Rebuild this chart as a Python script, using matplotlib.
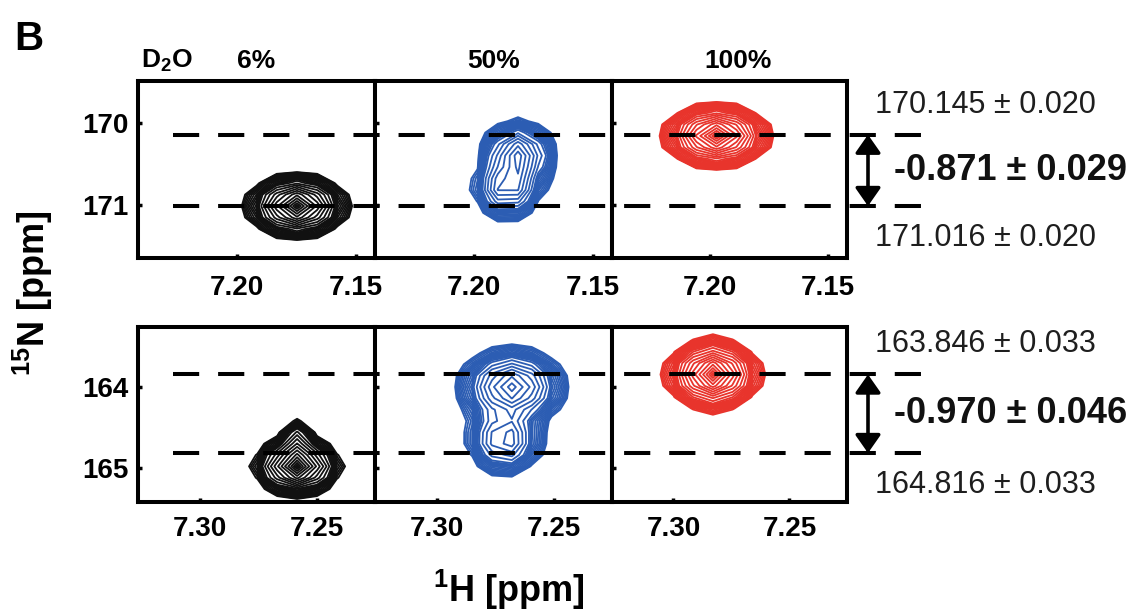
import numpy as np
import matplotlib
matplotlib.use("Agg")
import matplotlib.pyplot as plt
from matplotlib.lines import Line2D
from matplotlib.patches import FancyArrowPatch
from matplotlib.transforms import blended_transform_factory

plt.rcParams['font.family'] = ['Liberation Sans', 'DejaVu Sans']
plt.rcParams['mathtext.fontset'] = 'custom'
plt.rcParams['mathtext.rm'] = 'Liberation Sans'
plt.rcParams['mathtext.bf'] = 'Liberation Sans:bold'
plt.rcParams['mathtext.it'] = 'Liberation Sans:italic'

# ---- data ---------------------------------------------------------------
d2o_fractions = ["6%", "50%", "100%"]
panel_colors = ["#111111", "#2c5db3", "#e8342c"]

# upper residue
upper_h_lim = (7.2416, 7.1420)
upper_n_lim = (171.65, 169.49)
upper_h_ticks = [7.20, 7.15]
upper_n_ticks = [170, 171]
upper_shift = [170.145, 171.016]
upper_shift_err = [0.020, 0.020]
upper_delta_err = 0.029
# peak components per panel: (1H, 15N, height, width 1H, width 15N)
upper_peaks = [
    [(7.1748, 171.016, 1.00, 0.0083, 0.160)],
    [(7.1815, 170.400, 0.65, 0.0065, 0.190),
     (7.1860, 170.800, 0.65, 0.0058, 0.170)],
    [(7.1973, 170.160, 1.00, 0.0089, 0.160)],
]

# lower residue
lower_h_lim = (7.3265, 7.2252)
lower_n_lim = (165.42, 163.26)
lower_h_ticks = [7.30, 7.25]
lower_n_ticks = [164, 165]
lower_shift = [163.846, 164.816]
lower_shift_err = [0.033, 0.033]
lower_delta_err = 0.046
lower_peaks = [
    [(7.2585, 164.980, 1.00, 0.0073, 0.150),
     (7.2585, 164.650, 0.30, 0.0030, 0.120)],
    [(7.2680, 164.000, 0.75, 0.0095, 0.210),
     (7.2710, 164.650, 0.55, 0.0068, 0.200)],
    [(7.2830, 163.846, 1.00, 0.0080, 0.185)],
]

# contour radii (in peak widths): evenly spread inside, packed at the rim
contour_radii = np.concatenate([np.linspace(0.12, 1.85, 13), np.linspace(1.92, 2.54, 13)])
contour_levels = np.sort(np.exp(-0.5 * contour_radii ** 2))

# ---- figure -------------------------------------------------------------
W, H = 1139, 613
fig = plt.figure(figsize=(W / 100, H / 100), dpi=100)

panel_x = [138, 375, 612]
panel_w = [237, 237, 235]
rows = [
    dict(top=81, bottom=258, hlim=upper_h_lim, nlim=upper_n_lim,
         hticks=upper_h_ticks, nticks=upper_n_ticks, peaks=upper_peaks,
         shift=upper_shift, err=upper_shift_err, derr=upper_delta_err,
         step=(0.0085, 0.14)),
    dict(top=327, bottom=502, hlim=lower_h_lim, nlim=lower_n_lim,
         hticks=lower_h_ticks, nticks=lower_n_ticks, peaks=lower_peaks,
         shift=lower_shift, err=lower_shift_err, derr=lower_delta_err,
         step=(0.0085, 0.14)),
]


def fx(px):
    return px / W


def fy(py):
    return 1 - py / H


def draw_peaks(ax, comps, step, color):
    h0, n0 = comps[0][0], comps[0][1]
    sh, sn = step
    xl, yl = sorted(ax.get_xlim()), sorted(ax.get_ylim())
    hs = h0 + sh * np.arange(np.floor((xl[0] - h0) / sh), np.ceil((xl[1] - h0) / sh) + 1)
    ns = n0 + sn * np.arange(np.floor((yl[0] - n0) / sn), np.ceil((yl[1] - n0) / sn) + 1)
    HH, NN = np.meshgrid(hs, ns)
    Z = np.zeros_like(HH)
    for h, n, a, wh, wn in comps:
        Z += a * np.exp(-0.5 * (((HH - h) / wh) ** 2 + ((NN - n) / wn) ** 2))
    ax.contour(HH, NN, Z, levels=contour_levels, colors=color, linewidths=1.3)


for r, row in enumerate(rows):
    axes = []
    for p in range(3):
        ax = fig.add_axes([fx(panel_x[p]), fy(row['bottom']),
                           fx(panel_w[p]), (row['bottom'] - row['top']) / H])
        ax.set_xlim(*row['hlim'])
        ax.set_ylim(*row['nlim'])
        ax.set_xticks(row['hticks'])
        ax.set_xticklabels([f"{t:.2f}" for t in row['hticks']])
        ax.set_yticks(row['nticks'])
        if p == 0:
            ax.set_yticklabels([f"{t:d}" for t in row['nticks']])
        else:
            ax.set_yticklabels([])
        ax.tick_params(direction='in', length=3, width=2.5, labelsize=20,
                       pad=12 if r == 0 else 10)
        ax.tick_params(axis='y', pad=7)
        for lab in ax.get_xticklabels() + ax.get_yticklabels():
            lab.set_fontweight('bold')
        for s in ax.spines.values():
            s.set_linewidth(2.9)
        draw_peaks(ax, row['peaks'][p], row['step'], panel_colors[p])
        axes.append(ax)

    # dashed reference lines across the row and the double arrow
    tr = blended_transform_factory(fig.transFigure, axes[0].transData)
    for v in row['shift']:
        ln = Line2D([fx(173), fx(922)], [v, v], transform=tr, color='black',
                    lw=2.9, dashes=(6.5, 4.7), zorder=5)
        fig.add_artist(ln)
    arr = FancyArrowPatch((fx(868), row['shift'][0]), (fx(868), row['shift'][1]),
                          transform=tr, arrowstyle='<|-|>,head_length=0.5,head_width=0.35',
                          mutation_scale=22, lw=2.6, color='black',
                          shrinkA=0, shrinkB=0, zorder=6)
    fig.add_artist(arr)

    # shift values and the difference
    y_top = axes[0].transData.transform((0, row['shift'][0]))[1] / H
    y_bot = axes[0].transData.transform((0, row['shift'][1]))[1] / H
    fig.text(fx(875), y_top + 30 / H, f"{row['shift'][0]:.3f} \u00b1 {row['err'][0]:.3f}",
             fontsize=22, color='#1e1e1e', va='center', ha='left')
    fig.text(fx(875), y_bot - 32 / H, f"{row['shift'][1]:.3f} \u00b1 {row['err'][1]:.3f}",
             fontsize=22, color='#1e1e1e', va='center', ha='left')
    delta = row['shift'][0] - row['shift'][1]
    fig.text(fx(894), (y_top + y_bot) / 2, f"{delta:.3f} \u00b1 {row['derr']:.3f}",
             fontsize=26, fontweight='bold', color='#111111', va='center', ha='left')

# column headers
fig.text(fx(141), fy(68), r"D$_{\mathbf{2}}$O", fontsize=19, fontweight='bold', va='baseline')
header_x = [256, 494, 738]
for label, x in zip(d2o_fractions, header_x):
    fig.text(fx(x), fy(68), label, fontsize=19, fontweight='bold', ha='center', va='baseline')

# panel letter and axis titles
fig.text(fx(14), fy(50), "B", fontsize=29, fontweight='bold', va='baseline')
fig.text(fx(33), fy(293), r"$^{\mathbf{15}}$N [ppm]", fontsize=26, fontweight='bold',
         rotation=90, ha='center', va='center')
fig.text(fx(509), fy(590), r"$^{\mathbf{1}}$H [ppm]", fontsize=26, fontweight='bold',
         ha='center', va='center')

fig.savefig("out.png", dpi=100)
